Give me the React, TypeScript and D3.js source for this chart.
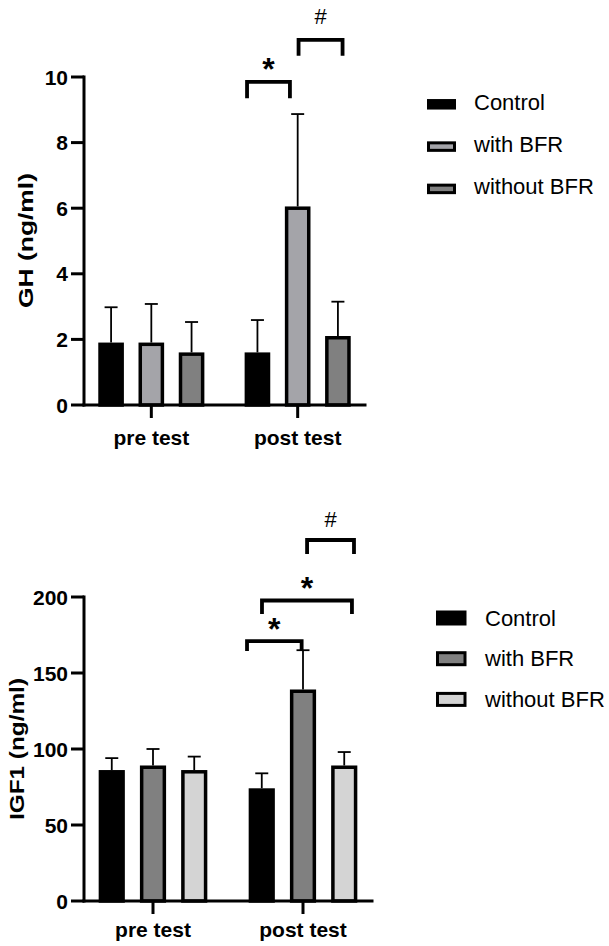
import React from 'react';
import * as d3 from 'd3';

const W = 609;
const H = 946;
const FONT = '"Liberation Sans", Arial, Helvetica, sans-serif';

const groups = ['pre test', 'post test'];
const series = ['Control', 'with BFR', 'without BFR'];

// GH (ng/ml)
const ghPre = [1.85, 1.85, 1.55];
const ghPost = [1.55, 6.0, 2.05];
const ghPreErr = [1.13, 1.23, 0.98];
const ghPostErr = [1.04, 2.87, 1.1];
const ghTicks = [0, 2, 4, 6, 8, 10];
const ghColors = ['#000000', '#a4a4a9', '#808080'];

// IGF1 (ng/ml)
const igfPre = [85, 88, 85];
const igfPost = [73, 138, 88];
const igfPreErr = [9, 12, 10];
const igfPostErr = [11, 27, 10];
const igfTicks = [0, 50, 100, 150, 200];
const igfColors = ['#000000', '#808080', '#d4d4d4'];

// significance brackets over the post test group
// from/to = [series index, position across the bar], heights in data units
const ghBrackets = [
  { label: '*', from: [0, 0.03], to: [1, 0.15], top: 9.85, leg: 9.35, textAt: 10.46 },
  { label: '#', from: [1, 0.54], to: [2, 0.71], top: 11.13, leg: 10.65, textAt: 11.86 },
];
const igfBrackets = [
  { label: '*', from: [0, -0.15], to: [1, 0.44], top: 171, leg: 164.5, textAt: 183.7 },
  { label: '*', from: [0, 0.51], to: [2, 0.84], top: 197.7, leg: 188.8, textAt: 210.5 },
  { label: '#', from: [1, 0.68], to: [2, 0.93], top: 237.5, leg: 228.3, textAt: 251 },
];

const panels = [
  {
    key: 'gh', yLabel: 'GH (ng/ml)', means: [ghPre, ghPost], errs: [ghPreErr, ghPostErr],
    ticks: ghTicks, colors: ghColors, brackets: ghBrackets,
    left: 84, right: 365, base: 405, top: 77, xLabelY: 445,
    yLabelX: 33, yLabelY: 240.5, yLabelLen: 135,
    legX: 427, legY0: 104.3, legStep: 42.3, legW: 29, legH: 10.5, legTextX: 474, legDy: 5.5,
  },
  {
    key: 'igf', yLabel: 'IGF1 (ng/ml)', means: [igfPre, igfPost], errs: [igfPreErr, igfPostErr],
    ticks: igfTicks, colors: igfColors, brackets: igfBrackets,
    left: 84, right: 372, base: 901, top: 597, xLabelY: 937,
    yLabelX: 24, yLabelY: 749, yLabelLen: 142,
    legX: 436, legY0: 618, legStep: 40.7, legW: 30.5, legH: 15, legTextX: 485, legDy: 7.5,
  },
];

function Panel({ cfg }: { cfg: any }) {
  const x = d3.scaleBand<string>().domain(groups).range([cfg.left, cfg.right])
    .paddingInner(0.2).paddingOuter(0.06);
  const xi = d3.scaleBand<string>().domain(series).range([0, x.bandwidth()])
    .paddingInner(0.45).paddingOuter(0.18);
  const y = d3.scaleLinear().domain([0, cfg.ticks[cfg.ticks.length - 1]]).range([cfg.base, cfg.top]);

  const rows = groups.flatMap((g, gi) =>
    series.map((s, si) => ({ g, s, si, v: cfg.means[gi][si], e: cfg.errs[gi][si] })));

  const barX = (gi: number, si: number, frac: number) =>
    (x(groups[gi]) as number) + (xi(series[si]) as number) + frac * xi.bandwidth();

  return (
    <g>
      {/* bars */}
      {rows.map(d => {
        const bx = (x(d.g) as number) + (xi(d.s) as number);
        return (
          <rect key={`b-${d.g}-${d.s}`} x={bx} y={y(d.v)} width={xi.bandwidth()}
            height={y(0) - y(d.v)} fill={cfg.colors[d.si]} stroke="#000" strokeWidth={3.5} />
        );
      })}

      {/* error bars (upper only) */}
      {rows.map(d => {
        const cx = (x(d.g) as number) + (xi(d.s) as number) + xi.bandwidth() / 2;
        return (
          <g key={`e-${d.g}-${d.s}`} stroke="#000" strokeWidth={1.8}>
            <line x1={cx} x2={cx} y1={y(d.v) - 1.75} y2={y(d.v + d.e)} />
            <line x1={cx - 6.5} x2={cx + 6.5} y1={y(d.v + d.e)} y2={y(d.v + d.e)} />
          </g>
        );
      })}

      {/* axes */}
      <line x1={cfg.left} x2={cfg.left} y1={y(cfg.ticks[cfg.ticks.length - 1])} y2={y(0)}
        stroke="#000" strokeWidth={3} strokeLinecap="square" />
      <line x1={cfg.left} x2={cfg.right} y1={y(0)} y2={y(0)}
        stroke="#000" strokeWidth={3} strokeLinecap="square" />
      {cfg.ticks.map((t: number) => (
        <g key={`t-${t}`}>
          <line x1={cfg.left - 13} x2={cfg.left} y1={y(t)} y2={y(t)} stroke="#000" strokeWidth={3} />
          <text x={cfg.left - 16} y={y(t) + 7.5} textAnchor="end" fontSize={21}
            fontWeight="bold" fontFamily={FONT}>{t}</text>
        </g>
      ))}
      {groups.map(g => {
        const cx = (x(g) as number) + x.bandwidth() / 2;
        return (
          <g key={`x-${g}`}>
            <line x1={cx} x2={cx} y1={y(0)} y2={y(0) + 13} stroke="#000" strokeWidth={3} />
            <text x={cx} y={cfg.xLabelY} textAnchor="middle" fontSize={21}
              fontWeight="bold" fontFamily={FONT}>{g}</text>
          </g>
        );
      })}
      <text transform={`translate(${cfg.yLabelX},${cfg.yLabelY}) rotate(-90)`} textAnchor="middle"
        fontSize={21} fontWeight="bold" fontFamily={FONT}
        textLength={cfg.yLabelLen} lengthAdjust="spacingAndGlyphs">{cfg.yLabel}</text>

      {/* significance brackets */}
      {cfg.brackets.map((b: any, i: number) => {
        const x1 = barX(1, b.from[0], b.from[1]);
        const x2 = barX(1, b.to[0], b.to[1]);
        const star = b.label === '*';
        return (
          <g key={`br-${i}`}>
            <path d={`M${x1},${y(b.leg)}V${y(b.top)}H${x2}V${y(b.leg)}`} fill="none"
              stroke="#000" strokeWidth={3.8} strokeLinejoin="miter" />
            <text x={(x1 + x2) / 2} y={y(b.textAt) + (star ? 18 : 7.7)} textAnchor="middle"
              fontSize={star ? 32 : 22} fontWeight={star ? 'bold' : 'normal'}
              fontFamily={FONT}>{b.label}</text>
          </g>
        );
      })}

      {/* legend */}
      {series.map((s, i) => {
        const cy = cfg.legY0 + i * cfg.legStep;
        return (
          <g key={`l-${s}`}>
            <rect x={cfg.legX + 1.5} y={cy - cfg.legH / 2 + 1.5} width={cfg.legW - 3}
              height={cfg.legH - 3} fill={cfg.colors[i]} stroke="#000" strokeWidth={3} />
            <text x={cfg.legTextX} y={cy + cfg.legDy} fontSize={22} fontFamily={FONT}>{s}</text>
          </g>
        );
      })}
    </g>
  );
}

export default function App() {
  return (
    <svg width={W} height={H} style={{ position: 'absolute', left: 0, top: 0, background: '#fff' }}>
      {panels.map(p => <Panel key={p.key} cfg={p} />)}
    </svg>
  );
}
